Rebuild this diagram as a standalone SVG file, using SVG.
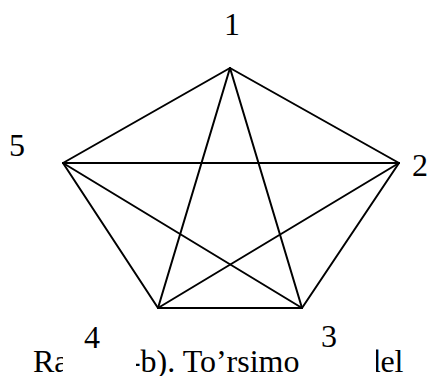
<svg xmlns="http://www.w3.org/2000/svg" width="431" height="376" viewBox="0 0 431 376" font-family="Liberation Serif" font-size="32">
<style>
.e{stroke:#000;stroke-width:2;fill:none;stroke-linecap:round}
.m{fill:#fff}
</style>
<rect width="431" height="376" fill="#fff"/>
<text x="33" y="372" fill="#000">Rasm 8-b). To’rsimon model</text>
<g id="connectors">
<line class="e" x1="230" y1="68" x2="399" y2="163"/>
<line class="e" x1="230" y1="68" x2="302" y2="308"/>
<line class="e" x1="230" y1="68" x2="158" y2="308"/>
<line class="e" x1="230" y1="68" x2="63" y2="163"/>
<line class="e" x1="399" y1="163" x2="302" y2="308"/>
<line class="e" x1="399" y1="163" x2="158" y2="308"/>
<line class="e" x1="399" y1="163" x2="63" y2="163"/>
<line class="e" x1="302" y1="308" x2="158" y2="308"/>
<line class="e" x1="302" y1="308" x2="63" y2="163"/>
<line class="e" x1="158" y1="308" x2="63" y2="163"/>
</g>
<g id="node1"><text x="232" y="35" text-anchor="middle">1</text></g>
<g id="node2"><text x="420" y="176" text-anchor="middle">2</text></g>
<g id="node3"><rect class="m" x="299" y="320" width="77" height="56"/><text x="329" y="347" text-anchor="middle">3</text></g>
<g id="node4"><rect class="m" x="63" y="320" width="73" height="56"/><text x="92" y="348" text-anchor="middle">4</text></g>
<g id="node5"><text x="17" y="156" text-anchor="middle">5</text></g>
</svg>
